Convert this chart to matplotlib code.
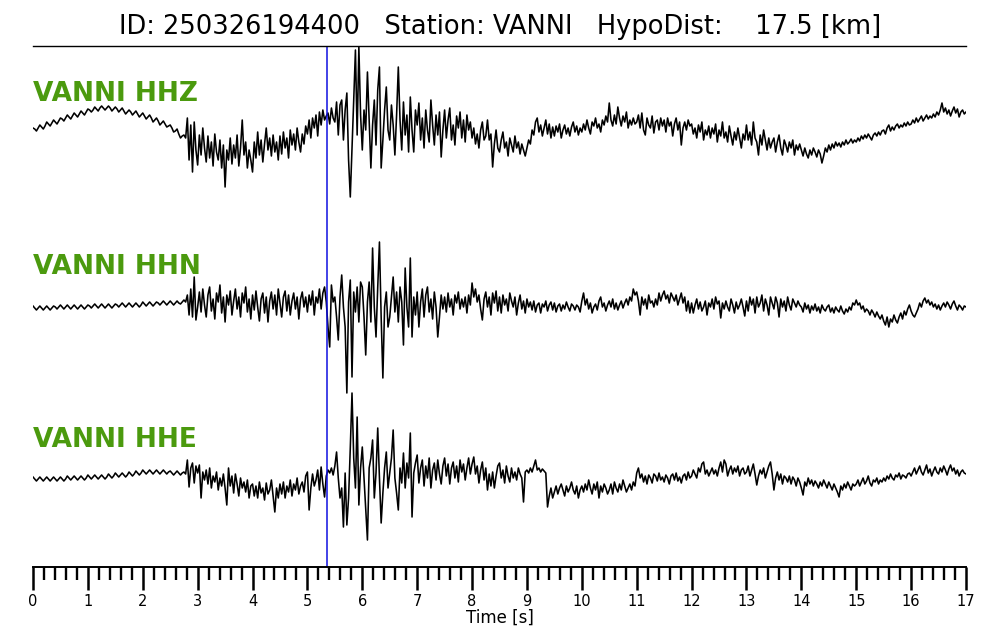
import numpy as np
import matplotlib
matplotlib.use("Agg")
import matplotlib.pyplot as plt
from matplotlib.ticker import MultipleLocator

# ---- data (amplitudes, in screen-pixel units, up = positive)
sampling_rate = 32  # samples per second, one row below = 0.5 s
title = "ID: 250326194400   Station: VANNI   HypoDist:    17.5 [km]"
channels = ["VANNI HHZ", "VANNI HHN", "VANNI HHE"]
pick_time = 5.36
xticks = list(range(0, 18))

hhz = [
    2, 1, -1, 2, 5, 3, 1, 4, 8, 6, 4, 7, 10, 8, 6, 9,
    12, 11, 9, 12, 15, 13, 11, 14, 17, 15, 13, 16, 19, 17, 15, 18,
    21, 20, 18, 20, 23, 21, 19, 22, 24, 22, 20, 22, 24, 22, 19, 21,
    23, 21, 18, 20, 22, 19, 16, 18, 20, 18, 15, 17, 19, 16, 13, 15,
    17, 14, 11, 13, 15, 12, 8, 10, 12, 9, 5, 7, 9, 6, 3, 4,
    5, 2, -2, -1, 1, -4, -8, -6, -5, -8, 12, -30, 5, -42, 8, -20,
    -35, -5, -25, 2, -18, -32, -6, -28, -12, -36, -4, -22, -30, -10, -38, -15,
    -57, -20, -30, -8, -34, -15, -28, -5, -36, -18, 10, -25, -12, -38, -20, -30,
    -42, -12, -28, -2, -25, -10, -32, -14, 2, -20, -8, -26, -5, -22, -12, -30,
    -6, -24, -2, -18, -8, -28, 0, -15, -4, -20, 2, -12, -22, -4, -14, 4,
    -4, 10, -8, 12, 2, 15, -6, 18, 5, 20, 10, 14, 17, 6, 22, 12,
    8, 28, -5, 25, 30, -10, 20, 37, -30, -67, -20, 30, 80, -5, 83, 15,
    -20, 20, 0, 58, 10, -38, 5, 30, -15, 40, 63, -38, -10, 20, 43, 0,
    -10, 25, 5, -25, 15, 63, 10, -20, 28, -5, 15, -22, 33, 0, -22, 20,
    5, 27, -10, 12, -18, 20, 0, -12, 30, 5, -15, 15, -5, 18, -27, 0,
    20, -8, 10, 22, -10, 5, -15, 14, 2, 18, -8, 10, -12, 15, 0, 8,
    -8, 2, -14, -4, -18, 0, 8, -10, -6, 10, -10, -4, -37, -14, 0, -18,
    -22, -10, -2, -18, -12, -26, -8, -15, -22, -6, -18, -12, -24, -14, -20, -26,
    -18, -10, -14, 0, -5, 8, 12, -2, 5, -6, 2, 10, -4, 6, -8, 3,
    -6, 4, -2, 6, -8, 0, 5, -4, 2, -6, 3, 8, -2, 4, -5, 2,
    -2, 6, 0, 10, 2, -4, 8, 4, 12, 2, 6, -2, 10, 5, 14, 8,
    27, 10, 4, 15, 6, 23, 12, 4, 14, 8, 18, 2, 10, 5, 12, 6,
    8, 15, 2, 17, 0, -5, 12, 5, 2, 14, -3, 8, 10, 0, 12, 4,
    10, -2, 12, 4, 8, -6, 6, 12, 0, 8, -15, 2, 8, 0, 10, 4,
    6, -4, 2, -8, 5, -2, 8, -10, 0, -5, 4, -8, 2, -4, 6, -12,
    0, -6, 8, -8, -2, -12, 4, -6, -15, -2, -10, 2, -8, -18, -4, -10,
    5, -10, -2, -15, 8, -8, -12, -25, -5, -15, 0, -10, -20, -8, -18, -12,
    -8, -22, -12, -5, -18, -25, -10, -15, -22, -12, -18, -10, -25, -15, -20, -14,
    -20, -26, -18, -24, -28, -20, -25, -18, -22, -27, -20, -24, -33, -26, -18, -22,
    -15, -20, -14, -18, -12, -16, -13, -17, -12, -15, -10, -14, -12, -9, -13, -10,
    -12, -8, -11, -6, -9, -5, -8, -4, -7, -10, -5, -3, -6, -2, -5, -1,
    0, -4, 2, 5, -1, 3, 0, 4, 6, 2, 5, 3, 7, 4, 8, 5,
    6, 10, 7, 12, 8, 11, 14, 9, 12, 15, 11, 14, 12, 16, 13, 18,
    15, 20, 27, 18, 22, 16, 20, 14, 19, 23, 17, 21, 13, 18, 20, 16,
    18,
]

hhn = [
    1, -1, -3, -1, 1, -1, -3, -1, 1, -1, -3, -1, 1, 0, -2, 0,
    2, 0, -2, 0, 2, 0, -2, 0, 2, 0, -2, 0, 2, 0, -2, 0,
    2, 1, -1, 1, 3, 1, -1, 1, 3, 1, -1, 1, 3, 1, -1, 1,
    3, 2, 0, 2, 4, 2, 0, 2, 4, 2, 0, 2, 4, 2, 0, 2,
    5, 3, 1, 3, 5, 3, 1, 3, 5, 4, 2, 4, 6, 4, 2, 4,
    6, 4, 2, 4, 6, 4, 3, 5, 7, 5, 12, -8, 18, -10, 30, -13,
    0, 15, -5, 18, 2, -10, 12, 20, -4, 8, -12, 14, 5, 22, -6, 10,
    -15, 12, 2, 16, -8, 6, 18, -2, 10, -10, 14, 4, 20, -5, 8, -12,
    12, -3, 16, 0, -14, 8, 14, -6, 10, -15, 6, 15, -2, 12, -8, 18,
    4, -10, 10, 16, -4, 12, -8, 6, 14, -2, 10, -12, 8, 15, 0, 10,
    -5, 12, 2, 16, -8, 10, 4, 18, -2, 14, 20, 5, -20, -40, 22, 5,
    10, -10, -33, 10, 32, 0, -20, -86, 5, 27, -70, 15, -5, 20, -15, 25,
    20, -10, -48, 5, 25, -15, 59, 0, -30, 20, 65, -10, -71, 0, 15, -20,
    -10, 10, 30, -5, 15, -15, 20, 5, -38, 39, 0, -20, 49, -30, 10, -8,
    15, -20, 5, 18, -10, 12, 20, -5, 8, -12, 15, 0, -30, -10, 12, -2,
    10, -5, 14, 0, 8, -8, 12, 4, 15, -2, 8, 0, 10, -6, 12, 2,
    24, 10, 18, 5, 12, -2, -13, 8, 15, 0, 10, -8, 14, 4, 16, -4,
    10, -6, 12, 2, 8, -4, 14, 6, 0, 10, -8, 4, 12, -2, 6, -6,
    8, 0, 5, -3, 6, -5, 2, 4, -6, 3, 0, 6, -4, 2, 5, -3,
    4, -5, 1, 3, -4, 2, -2, 5, 0, -4, 3, 1, -3, 2, 0, -5,
    6, 14, 2, 8, -2, 4, -6, 0, 3, -3, 6, 10, 0, 4, -4, 2,
    6, 0, 8, -2, 4, -3, 2, 6, -1, 4, 8, 2, 10, 6, 18, 12,
    15, 6, -8, 10, 2, 8, -2, 12, 4, 6, 0, 8, 2, 14, 6, 12,
    16, 8, 12, 4, 14, 10, 6, 12, 2, 8, 14, 4, 10, -4, 6, -6,
    4, -6, 2, 8, -2, 5, -4, 0, 6, -8, 4, 0, 8, -2, 10, 3,
    6, -11, 4, -2, 6, 0, -4, 8, 2, -6, 5, -2, 2, 8, 0, -9,
    6, -4, 10, 2, 8, -6, 10, 0, 4, 12, -4, 8, 2, -8, 10, 4,
    -2, 10, 4, -10, 8, 0, 6, -4, 10, 2, -3, 8, 4, 0, 6, 2,
    0, -5, 4, -2, 2, -6, 1, -3, 3, -4, 0, -6, 2, -2, -4, 0,
    2, -5, -1, -6, 0, -3, -5, 1, -4, -7, -2, -5, 0, -3, 4, 2,
    7, 2, 4, -2, 1, -5, -2, -4, -8, -3, -6, -10, -5, -9, -12, -8,
    -14, -18, -10, -20, -12, -15, -8, -13, -16, -10, -6, -12, -4, -8, -2, 2,
    -4, -8, -10, -6, -2, 4, 0, 6, 9, 4, 7, 2, 5, 0, 3, -2,
    2, -3, 1, 4, 0, 5, 2, -2, 3, 6, 1, -3, 2, 0, -3, 1,
    0,
]

hhe = [
    1, -1, -3, -1, 1, -1, -3, -1, 1, -1, -3, -1, 1, -1, -3, -1,
    1, -1, -3, -1, 2, 0, -2, 0, 2, 0, -2, 0, 2, 0, -2, 0,
    3, 1, -1, 1, 3, 1, -1, 1, 3, 1, -1, 1, 4, 2, 0, 2,
    5, 3, 1, 3, 5, 3, 1, 3, 6, 4, 2, 4, 7, 5, 3, 5,
    8, 6, 4, 6, 8, 6, 4, 6, 8, 6, 4, 6, 8, 6, 4, 6,
    7, 5, 3, 5, 7, 5, 3, 5, 6, 4, 18, -9, 10, 15, -5, 12,
    5, 13, -20, 6, -2, 8, -6, 10, -10, 2, -4, 6, -12, 0, -8, 4,
    -10, -27, 10, -8, 2, -15, 4, -6, -18, 0, -10, -4, -14, -2, -20, -8,
    -6, -18, -8, -20, -4, -15, -10, -22, -5, -16, -12, -2, -18, -34, -10, -20,
    -6, -16, -4, -20, -8, -14, -2, -18, -6, -12, 0, -16, -8, -4, -14, 2,
    6, -32, -10, 4, -8, -2, 8, -12, 11, -6, -19, 2, 8, 5, 10, 3,
    12, 26, 0, -20, -10, -49, 5, -47, -20, 30, 85, 20, -10, 61, -27, 10,
    31, 0, -30, -62, 10, 20, 38, -20, 5, 50, 0, -45, -15, 10, 26, -10,
    5, 20, 48, 0, -15, -32, 10, -5, 25, -10, 15, 0, 45, -39, 5, 15,
    23, -5, 10, 18, -8, 12, 0, 20, -10, 8, 15, -2, 18, 4, -6, 12,
    20, 2, 14, -6, 10, 16, 0, 12, -4, 18, 6, 14, -2, 10, 20, 4,
    14, 21, 4, 12, -5, 8, 16, -2, 10, -12, 4, -8, 6, -10, 2, 12,
    15, 0, 8, -5, 12, 2, -4, 10, 0, 6, -2, 10, 4, 0, -24, 6,
    8, 5, 10, 6, 12, 18, 8, 10, 6, 9, 7, 5, -29, -18, -10, -20,
    -14, -8, -16, -10, -6, -12, -18, -8, -14, -10, -4, -12, -16, -8, -20, -12,
    -8, -14, -6, -12, -2, -10, -16, -6, -12, -4, -20, -8, -14, -6, -10, -16,
    -12, -6, -16, -4, -10, -14, -6, -12, -2, -8, -14, -10, -6, -12, -4, -8,
    5, 10, 0, 4, -4, 2, -6, 3, 0, -5, 4, 2, -3, 5, -2, 1,
    -4, 3, 0, -6, 2, 4, -2, 5, -3, 1, -5, 2, 4, -2, 6, 0,
    2, 8, 4, 0, 10, 6, 14, 16, 4, 8, 2, 6, 10, 4, 8, 2,
    10, 16, 6, 18, 14, 2, 8, 12, 4, 10, 6, 12, 2, 8, 10, 4,
    6, 12, 2, 8, 14, 4, -7, 2, 8, 4, 10, 0, 6, 12, 16, 4,
    -12, 0, 6, -2, 4, -6, 2, 0, -4, 2, -6, 1, -2, -8, 0, -4,
    -10, -17, -4, -8, 0, -6, -2, -8, -3, -6, -10, -4, -8, -2, -6, -10,
    -4, -8, -12, -6, -10, -14, -19, -8, -12, -6, -10, -4, -8, -12, -6, -8,
    -6, -2, -8, -4, 0, -6, -3, 2, -5, -8, -2, -4, 0, -6, -2, -4,
    0, -3, 2, -1, 4, 0, -2, 3, 1, 5, -1, 3, 2, 0, 4, 5,
    2, 6, 10, 4, 8, 12, 6, 3, 8, 13, 5, 9, 2, 7, 11, 6,
    4, 10, 6, 12, 8, 3, 9, 13, 7, 10, 4, 8, 2, 6, 8, 5,
    4,
]

traces = [hhz, hhn, hhe]

# ---- layout (figure pixel rows)
W, H = 1000, 640
ax_left, ax_right, ax_top, ax_bottom = 33, 966, 46, 567
trace_rows = [130, 307, 478]
label_rows = [101, 274, 447]

fig = plt.figure(figsize=(10, 6.4), dpi=100)
ax = fig.add_axes([ax_left / W, 1 - ax_bottom / H,
                   (ax_right - ax_left) / W, (ax_bottom - ax_top) / H])
ax.set_xlim(0, 17)
ax.set_ylim(-ax_bottom, -ax_top)

for vals, row, lrow, name in zip(traces, trace_rows, label_rows, channels):
    v = np.asarray(vals, dtype=float)
    t = np.arange(len(v)) / sampling_rate
    ax.plot(t, v - row, color="black", lw=1.15)
    ax.text(0.0, -lrow, name, color="#4b9a0e", fontsize=19, fontweight="bold",
            ha="left", va="baseline")

ax.axvline(pick_time, color="#1010e0", lw=1.1)

for s in ("left", "right"):
    ax.spines[s].set_visible(False)
ax.spines["top"].set_linewidth(1.0)
ax.spines["bottom"].set_linewidth(1.4)
ax.set_yticks([])
ax.set_xticks(xticks)
ax.xaxis.set_minor_locator(MultipleLocator(0.2))
ax.tick_params(axis="x", which="major", direction="out", length=16.5, width=1.8,
               labelsize=10.5, pad=3)
ax.tick_params(axis="x", which="minor", direction="out", length=9.5, width=1.7)
ax.set_xlabel("Time [s]", fontsize=12, labelpad=0)

fig.text(0.5, 1 - 27 / H, title, ha="center", va="center", fontsize=18.5)

fig.savefig("out.png", dpi=100)
